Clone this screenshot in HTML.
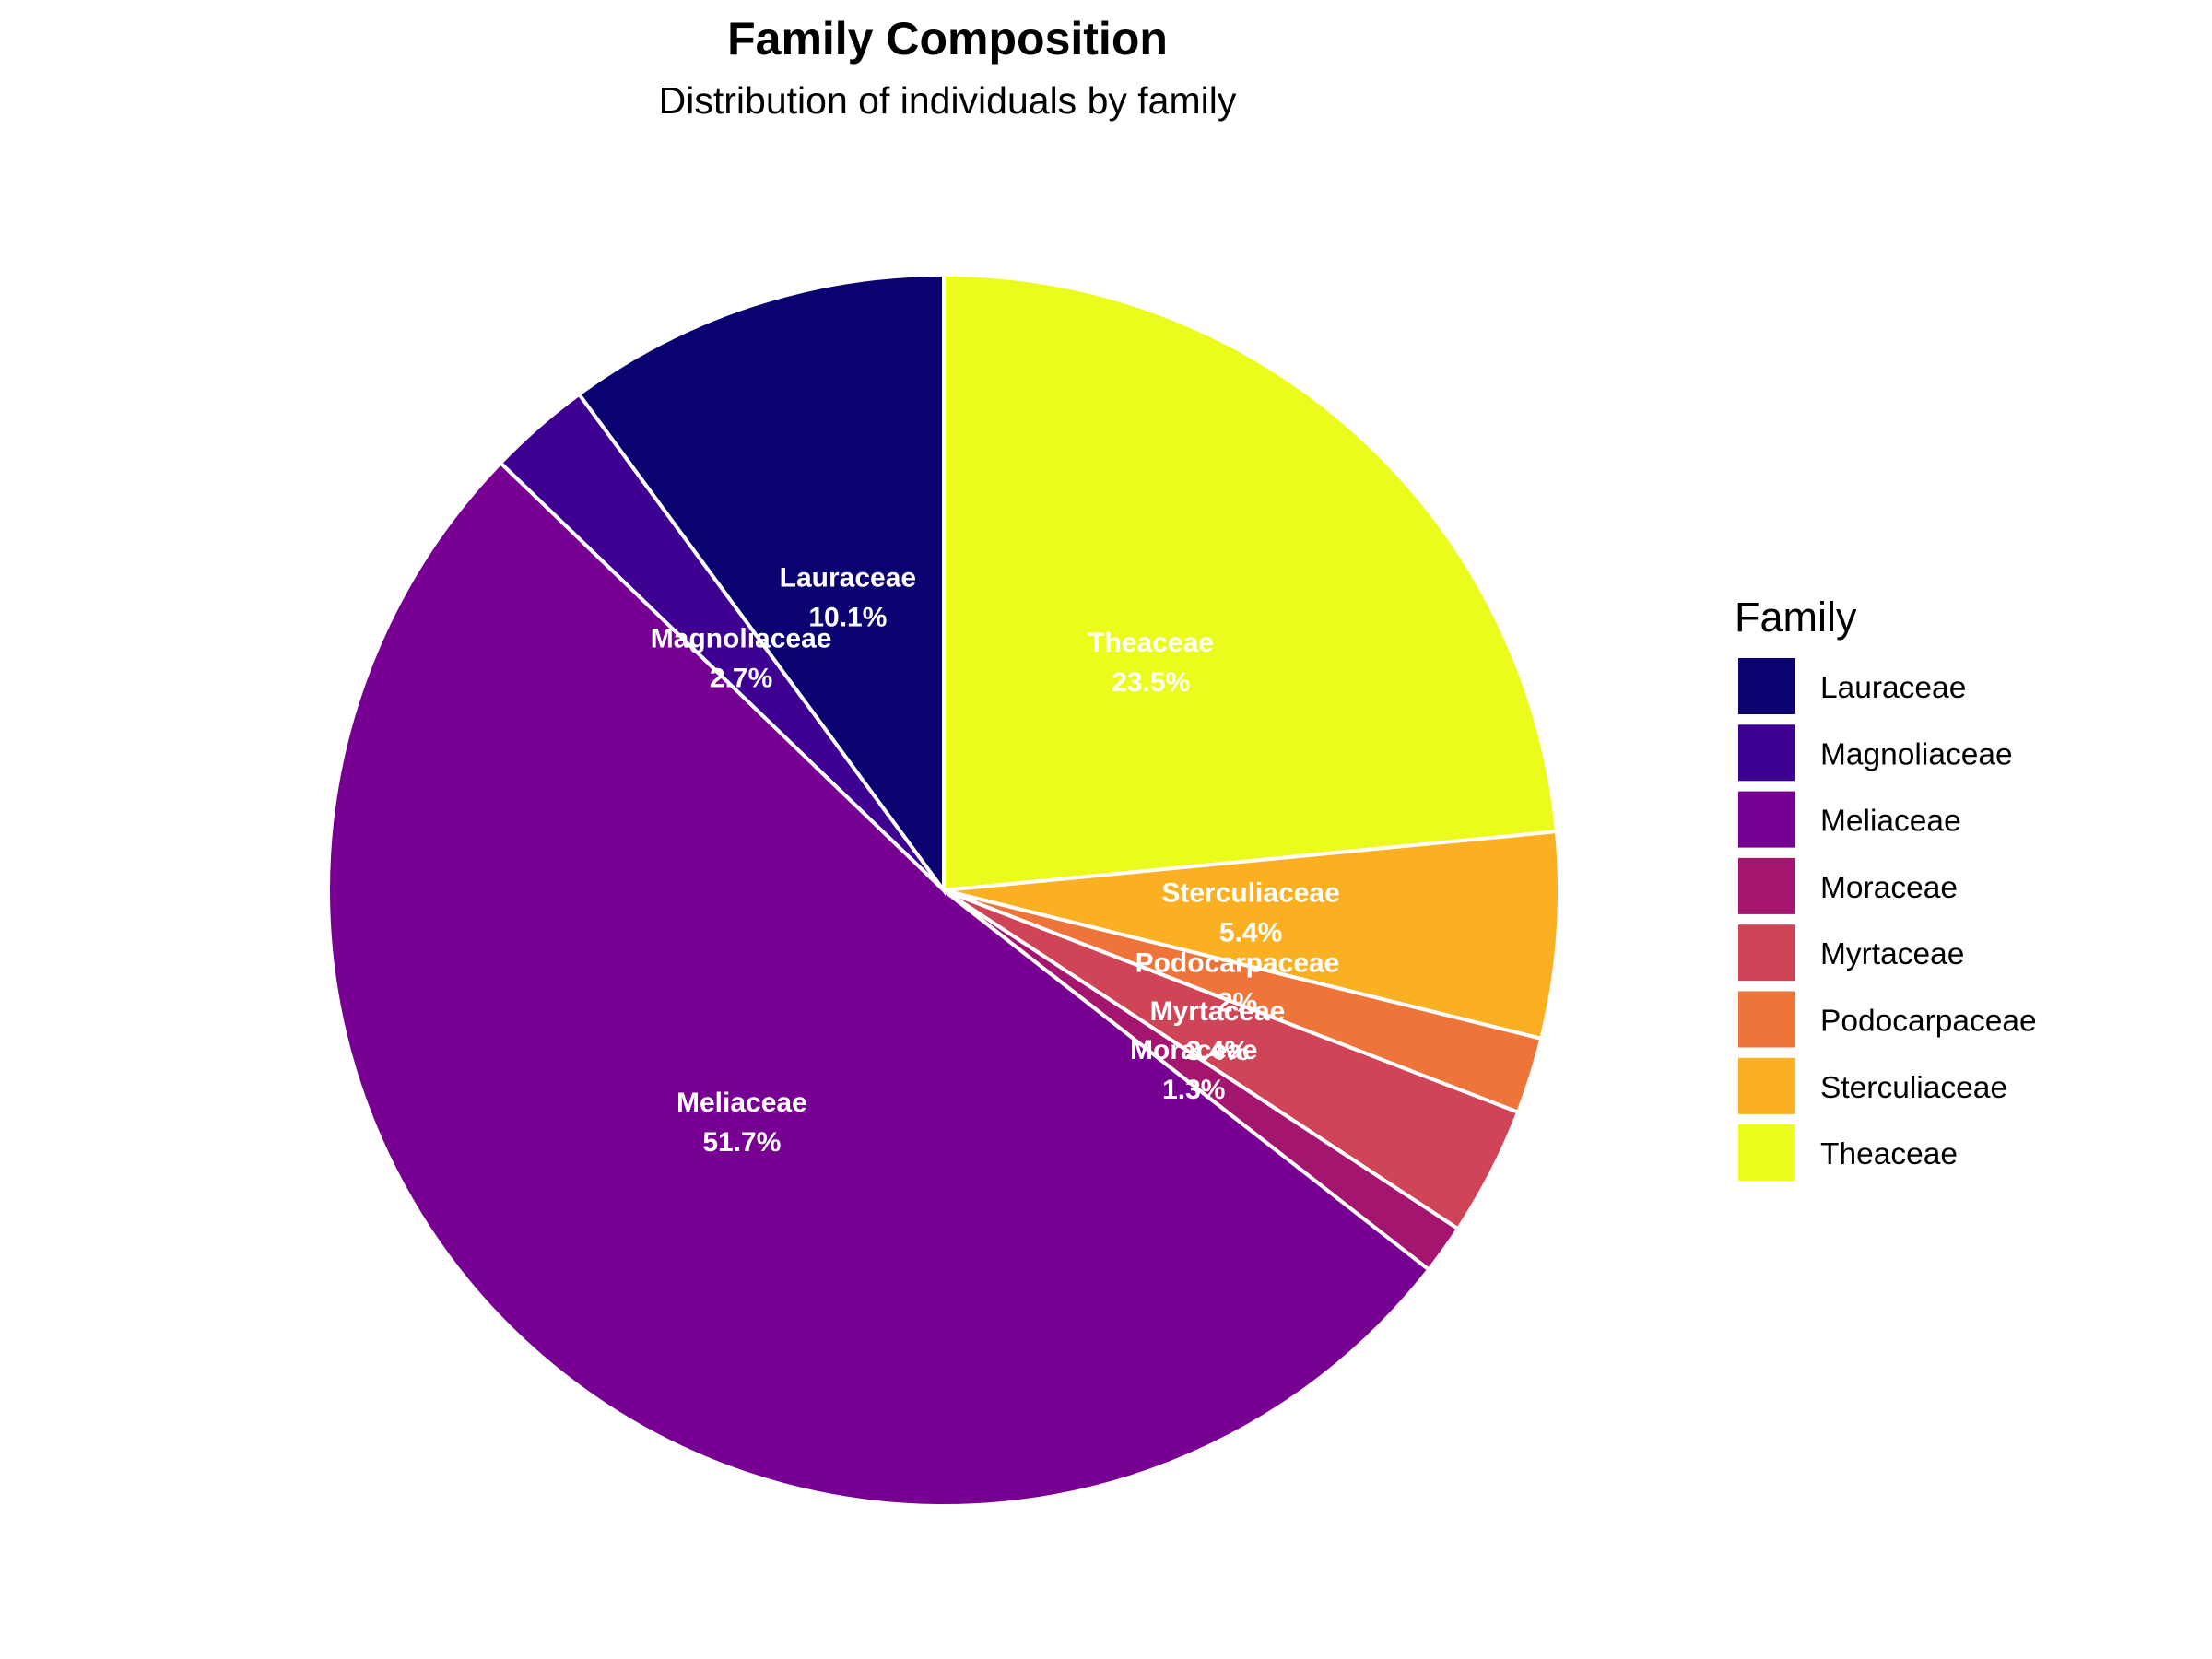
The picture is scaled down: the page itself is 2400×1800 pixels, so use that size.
<!DOCTYPE html>
<html><head><meta charset="utf-8"><style>
body{margin:0;background:#fff}
svg{display:block;font-family:"Liberation Sans",Arial,sans-serif}
</style></head><body>
<svg id="chart" width="2400" height="1800" viewBox="0 0 2400 1800">
<rect width="2400" height="1800" fill="#fff"/>
<text x="1028" y="59" font-size="50" font-weight="bold" text-anchor="middle">Family Composition</text>
<text x="1028" y="123" font-size="41" text-anchor="middle">Distribution of individuals by family</text>
<g id="slices"></g>
<g id="labels"></g>
<text x="1882" y="685" font-size="45">Family</text>
<g id="legend"></g>
</svg>
<script>
const families = ["Theaceae","Sterculiaceae","Podocarpaceae","Myrtaceae","Moraceae","Meliaceae","Magnoliaceae","Lauraceae"];
const percents = [23.5,5.4,2,3.4,1.3,51.7,2.7,10.1];
const pctLabels = ["23.5%","5.4%","2%","3.4%","1.3%","51.7%","2.7%","10.1%"];
const legendOrder = ["Lauraceae","Magnoliaceae","Meliaceae","Moraceae","Myrtaceae","Podocarpaceae","Sterculiaceae","Theaceae"];
const colorMap = {Lauraceae:"#0b0272",Magnoliaceae:"#3d0090",Meliaceae:"#770092",Moraceae:"#a3156f",Myrtaceae:"#cf4456",Podocarpaceae:"#ef743a",Sterculiaceae:"#fbb022",Theaceae:"#ebfc1c"};
const NS="http://www.w3.org/2000/svg";
const cx=1024, cy=966, R=668;
const total=percents.reduce((a,b)=>a+b,0);
function pt(frac,r){const a=frac*2*Math.PI;return [cx+r*Math.sin(a),cy-r*Math.cos(a)];}
const gS=document.getElementById('slices'), gL=document.getElementById('labels'), gLeg=document.getElementById('legend');
let acc=0;
families.forEach((f,i)=>{
  const s=acc/total, e=(acc+percents[i])/total; acc+=percents[i];
  const [x1,y1]=pt(s,R),[x2,y2]=pt(e,R);
  const p=document.createElementNS(NS,'path');
  p.setAttribute('d',`M${cx},${cy} L${x1},${y1} A${R},${R} 0 ${e-s>0.5?1:0} 1 ${x2},${y2} Z`);
  p.setAttribute('fill',colorMap[f]);p.setAttribute('stroke','#fff');p.setAttribute('stroke-width','4');
  
  
  gS.appendChild(p);
  const [lx,ly]=pt((s+e)/2,R/2);
  const t=document.createElementNS(NS,'text');
  t.setAttribute('x',lx);t.setAttribute('y',ly-12);t.setAttribute('font-size','30');t.setAttribute('font-weight','bold');t.setAttribute('fill','#fff');t.setAttribute('text-anchor','middle');
  t.textContent=f;
  
  
  gL.appendChild(t);
  const t2=document.createElementNS(NS,'text');
  t2.setAttribute('x',lx);t2.setAttribute('y',ly+31);t2.setAttribute('font-size','30');t2.setAttribute('font-weight','bold');t2.setAttribute('fill','#fff');t2.setAttribute('text-anchor','middle');
  t2.textContent=pctLabels[i];
  
  
  gL.appendChild(t2);
});
legendOrder.forEach((f,i)=>{
  const y=714+i*72.3;
  const r=document.createElementNS(NS,'rect');
  r.setAttribute('x',1886);r.setAttribute('y',y);r.setAttribute('width',62);r.setAttribute('height',61);r.setAttribute('fill',colorMap[f]);
  
  
  gLeg.appendChild(r);
  const t=document.createElementNS(NS,'text');
  t.setAttribute('x',1975);t.setAttribute('y',y+43);t.setAttribute('font-size','33.5');
  t.textContent=f;
  
  
  gLeg.appendChild(t);
});
</script>
</body></html>
